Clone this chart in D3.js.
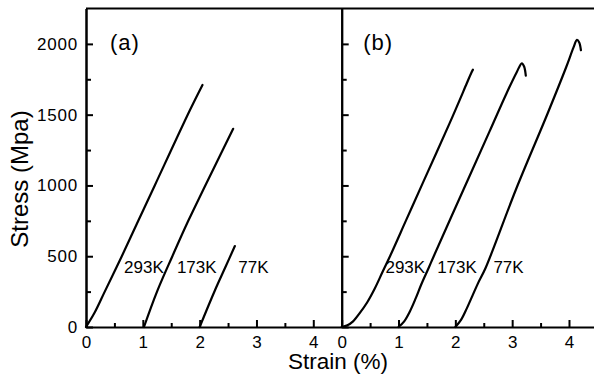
<!DOCTYPE html>
<html>
<head>
<meta charset="utf-8">
<script src="https://cdn.jsdelivr.net/npm/d3@7"></script>
<style>
body{margin:0;background:#fff;}
text{font-family:"Liberation Sans",Arial,sans-serif;fill:#000;}
</style>
</head>
<body>
<svg id="chart" width="594" height="380"></svg>
<script>
// strain (%) , stress (MPa)
var a293 = [[0,0],[0.15,100],[0.33,250],[0.63,500],[0.92,750],[1.21,1000],[1.83,1533],[2.05,1710]];
var a173 = [[1.02,0],[1.25,250],[1.52,500],[1.8,750],[2.1,1000],[2.59,1400]];
var a77  = [[2.0,0],[2.27,260],[2.45,420],[2.62,572]];
var b293 = [[0,0],[0.1,12],[0.2,40],[0.32,100],[0.45,175],[0.58,270],[0.72,390],[0.85,500],[1.14,760],[1.43,1020],[1.9,1440],[2.2,1720],[2.28,1795],[2.31,1818]];
var b173 = [[1,0],[1.1,40],[1.2,110],[1.3,200],[1.4,300],[1.53,417],[1.62,500],[2.14,968],[2.6,1380],[2.9,1650],[3.08,1800],[3.17,1863],[3.21,1840],[3.24,1775]];
var b77  = [[2,0],[2.1,50],[2.2,130],[2.3,220],[2.4,310],[2.53,415],[3.07,975],[3.62,1505],[3.95,1835],[4.08,1975],[4.14,2028],[4.18,2010],[4.21,1955]];

var panelNames = ["(a)", "(b)"];
var tempNames = ["293K", "173K", "77K"];
var labelStrainA = [0.67, 1.6, 2.68];
var labelStrainB = [0.77, 1.68, 2.67];
var labelStress = 382;

var xTicks = [0, 1, 2, 3, 4];
var xMinor = [0.5, 1.5, 2.5, 3.5];
var yTicks = [0, 500, 1000, 1500, 2000];
var yMinor = [250, 750, 1250, 1750];

var svg = d3.select("#chart");
var plotLeft = 86, plotTop = 8.5, plotBottom = 327, panelW = 255.7;

var y = d3.scaleLinear().domain([0, 2250]).range([plotBottom, plotTop]);

var panels = [
  {name: panelNames[0], series: [a293, a173, a77], lx: labelStrainA},
  {name: panelNames[1], series: [b293, b173, b77], lx: labelStrainB}
];

var line = d3.line().curve(d3.curveCatmullRom.alpha(0.5));

panels.forEach(function(p, i){
  var x0 = plotLeft + i * panelW;
  var x = d3.scaleLinear().domain([0, 4.5]).range([x0, x0 + panelW]);

  // minor x ticks
  svg.append("g")
    .attr("transform", "translate(0," + plotBottom + ")")
    .call(d3.axisBottom(x).tickValues(xMinor).tickSize(-4).tickSizeOuter(0).tickFormat(""))
    .call(function(g){ g.select(".domain").remove(); });

  var gx = svg.append("g")
    .attr("transform", "translate(0," + plotBottom + ")")
    .call(d3.axisBottom(x).tickValues(xTicks).tickSize(-7).tickSizeOuter(0).tickPadding(9).tickFormat(d3.format("d")));
  gx.selectAll("text").style("font-size", "17px");

  // vertical axis line of each panel, ticks pointing right
  svg.append("g")
    .attr("transform", "translate(" + x0 + ",0)")
    .call(d3.axisLeft(y).tickValues(yMinor).tickSize(-5).tickSizeOuter(0).tickFormat(""));
  var gy = svg.append("g")
    .attr("transform", "translate(" + x0 + ",0)")
    .call(d3.axisLeft(y).tickValues(yTicks).tickSize(-7).tickSizeOuter(0).tickPadding(8).tickFormat(d3.format("d")));
  if (i == 0) {
    gy.selectAll("text").style("font-size", "17px").style("letter-spacing", "0.8px");
  } else {
    gy.selectAll("text").remove();
  }

  p.series.forEach(function(s, j){
    svg.append("path")
      .attr("d", line(s.map(function(d){ return [x(d[0]), y(d[1])]; })))
      .attr("fill", "none")
      .attr("stroke", "#000")
      .attr("stroke-width", 2.2)
      .attr("stroke-linejoin", "round")
      .attr("stroke-linecap", "round");

    svg.append("text")
      .attr("x", x(p.lx[j]))
      .attr("y", y(labelStress))
      .style("font-size", "17px")
      .text(tempNames[j]);
  });

  svg.append("text")
    .attr("x", x0 + (i == 0 ? 24 : 21.5))
    .attr("y", 50)
    .style("font-size", "22px")
    .style("letter-spacing", "1px")
    .text(p.name);
});

svg.selectAll(".domain, .tick line").attr("stroke", "#000").attr("stroke-width", 2);

// top frame
svg.append("line")
  .attr("x1", plotLeft).attr("x2", 594)
  .attr("y1", plotTop).attr("y2", plotTop)
  .attr("stroke", "#000").attr("stroke-width", 2);

svg.append("text")
  .attr("x", 338).attr("y", 369)
  .attr("text-anchor", "middle")
  .style("font-size", "22.5px")
  .text("Strain (%)");

svg.append("text")
  .attr("transform", "translate(27.5,179) rotate(-90)")
  .attr("text-anchor", "middle")
  .style("font-size", "24px")
  .text("Stress (Mpa)");
</script>
</body>
</html>
